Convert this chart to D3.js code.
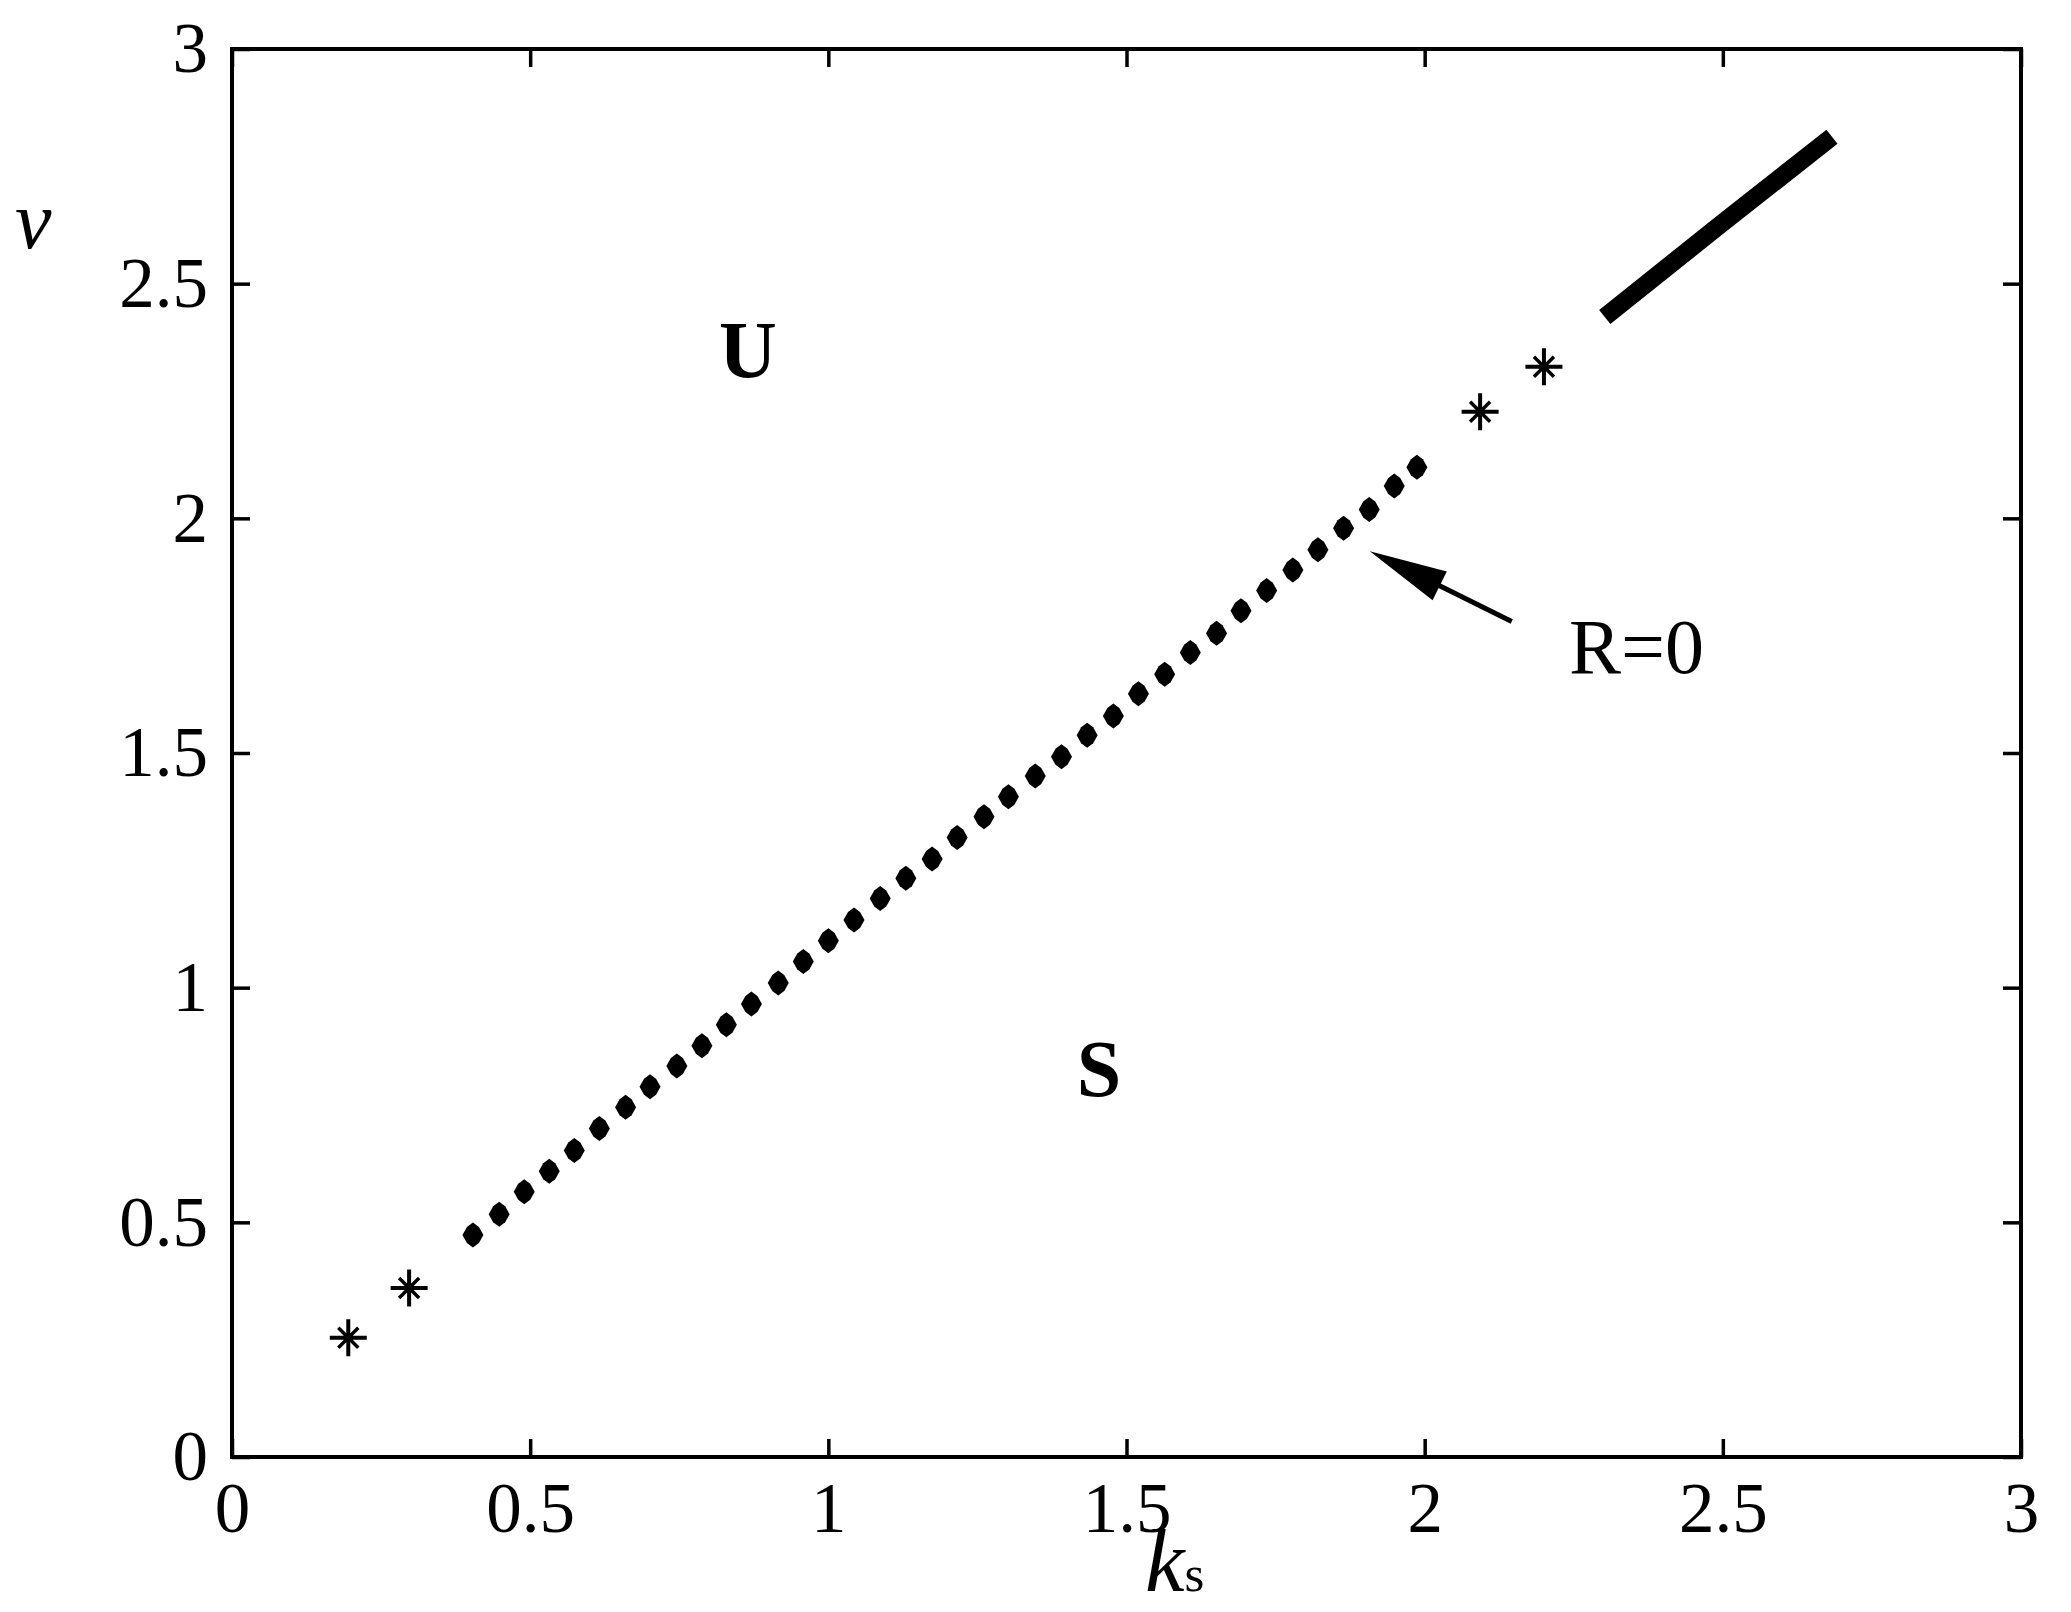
<!DOCTYPE html>
<html>
<head>
<meta charset="utf-8">
<script src="https://cdn.jsdelivr.net/npm/d3@7"></script>
<style>
  html, body { margin: 0; padding: 0; background: #fff; }
  svg { display: block; }
  text { font-family: "Liberation Serif", "Times New Roman", serif; fill: #000; }
</style>
</head>
<body>
<script>
// values (k_s on x, nu on y)
var dot_ks = [0.404, 0.448, 0.490, 0.532, 0.574, 0.616, 0.660, 0.701, 0.746, 0.788,
              0.829, 0.871, 0.916, 0.958, 1.000, 1.043, 1.087, 1.130, 1.174, 1.216,
              1.261, 1.302, 1.347, 1.391, 1.434, 1.478, 1.520, 1.564, 1.607, 1.651,
              1.692, 1.735, 1.779, 1.821, 1.864, 1.907, 1.949, 1.987];
var dot_nu = [0.473, 0.517, 0.565, 0.609, 0.653, 0.700, 0.745, 0.789, 0.833, 0.876,
              0.921, 0.965, 1.010, 1.056, 1.100, 1.144, 1.190, 1.233, 1.274, 1.320,
              1.364, 1.407, 1.451, 1.492, 1.538, 1.579, 1.626, 1.668, 1.714, 1.755,
              1.803, 1.846, 1.890, 1.933, 1.979, 2.019, 2.069, 2.109];
var star_ks = [0.195, 0.297, 2.093, 2.200];
var star_nu = [0.254, 0.360, 2.227, 2.323];
var band_ks = [2.302, 2.495, 2.683];
var band_nu = [2.429, 2.625, 2.813];

var tick_values = [0, 0.5, 1, 1.5, 2, 2.5, 3];
var tick_labels = ['0', '0.5', '1', '1.5', '2', '2.5', '3'];

// region labels and the R=0 note, in data units
var region_labels = ['U', 'S'];
var region_ks = [0.865, 1.454];
var region_nu = [2.301, 0.769];
var note_text = 'R=0';
var note_at = [2.242, 1.671];
var arrow_from = [2.146, 1.780];
var arrow_to = [1.908, 1.930];

var svg_w = 2071, svg_h = 1612;
var margin = {top: 49, right: 50, bottom: 155, left: 232};
var plot_w = svg_w - margin.left - margin.right;
var plot_h = svg_h - margin.top - margin.bottom;

var svg = d3.select('body').append('svg')
  .attr('xmlns', 'http://www.w3.org/2000/svg')
  .attr('width', svg_w)
  .attr('height', svg_h);

var g = svg.append('g').attr('transform', 'translate(' + margin.left + ',' + margin.top + ')');

var x = d3.scaleLinear().domain([0, 3]).range([0, plot_w]);
var y = d3.scaleLinear().domain([0, 3]).range([plot_h, 0]);

function label(d, i) { return tick_labels[i]; }

// axes, ticks point inward on all four sides
var tick_len = 18;
var ax_bottom = g.append('g').attr('transform', 'translate(0,' + plot_h + ')')
  .call(d3.axisBottom(x).tickValues(tick_values).tickFormat(label).tickSizeInner(-tick_len).tickSizeOuter(0).tickPadding(25));
var ax_left = g.append('g')
  .call(d3.axisLeft(y).tickValues(tick_values).tickFormat(label).tickSizeInner(-tick_len).tickSizeOuter(0).tickPadding(24));
var ax_top = g.append('g')
  .call(d3.axisTop(x).tickValues(tick_values).tickFormat('').tickSizeInner(-tick_len).tickSizeOuter(0));
var ax_right = g.append('g').attr('transform', 'translate(' + plot_w + ',0)')
  .call(d3.axisRight(y).tickValues(tick_values).tickFormat('').tickSizeInner(-tick_len).tickSizeOuter(0));

[ax_bottom, ax_left, ax_top, ax_right].forEach(function (a) {
  a.select('.domain').remove();
  a.selectAll('.tick line').attr('stroke', '#000').attr('stroke-width', 3.5);
  a.selectAll('.tick text')
    .style('font-family', '"Liberation Serif", "Times New Roman", serif')
    .style('font-size', '71px')
    .attr('fill', '#000');
});

// frame
g.append('rect')
  .attr('x', 0).attr('y', 0)
  .attr('width', plot_w).attr('height', plot_h)
  .attr('fill', 'none').attr('stroke', '#000').attr('stroke-width', 4);

// thick segment at the top right
var band = d3.range(band_ks.length).map(function (i) { return [band_ks[i], band_nu[i]]; });
g.append('path')
  .datum(band)
  .attr('d', d3.line().x(function (d) { return x(d[0]); }).y(function (d) { return y(d[1]); }))
  .attr('fill', 'none')
  .attr('stroke', '#000')
  .attr('stroke-width', 18)
  .attr('stroke-linecap', 'butt');

// dotted boundary, small diamond blobs
var dots = d3.range(dot_ks.length).map(function (i) { return [dot_ks[i], dot_nu[i]]; });
g.append('g').selectAll('path')
  .data(dots)
  .join('path')
  .attr('transform', function (d) { return 'translate(' + x(d[0]) + ',' + y(d[1]) + ')'; })
  .attr('d', 'M0,-12.5L6,-8L10.5,0L6,8L0,12.5L-6,8L-10.5,0L-6,-8Z')
  .attr('fill', '#000');

// asterisks
var stars = d3.range(star_ks.length).map(function (i) { return [star_ks[i], star_nu[i]]; });
var star = g.append('g').selectAll('g')
  .data(stars)
  .join('g')
  .attr('transform', function (d) { return 'translate(' + x(d[0]) + ',' + y(d[1]) + ')'; });
star.append('path')
  .attr('d', 'M-18.5,0H18.5M0,-18.5V18.5')
  .attr('stroke', '#000').attr('stroke-width', 4).attr('fill', 'none');
star.append('path')
  .attr('d', 'M-10,-10L10,10M-10,10L10,-10')
  .attr('stroke', '#000').attr('stroke-width', 3.5).attr('fill', 'none');
star.append('circle').attr('r', 5).attr('fill', '#000');

// region labels
g.append('g').selectAll('text')
  .data(region_labels)
  .join('text')
  .attr('x', function (d, i) { return x(region_ks[i]); })
  .attr('y', function (d, i) { return y(region_nu[i]); })
  .attr('text-anchor', 'middle')
  .style('font-size', '80px')
  .style('font-weight', 'bold')
  .text(function (d) { return d; });

// R=0 note with arrow
var ax0 = x(arrow_from[0]), ay0 = y(arrow_from[1]);
var ax1 = x(arrow_to[0]), ay1 = y(arrow_to[1]);
var len = Math.sqrt((ax1 - ax0) * (ax1 - ax0) + (ay1 - ay0) * (ay1 - ay0));
var ux = (ax1 - ax0) / len, uy = (ay1 - ay0) / len;
var head_len = 78, head_half = 16;
var bx = ax1 - ux * head_len, by = ay1 - uy * head_len;
g.append('line')
  .attr('x1', ax0).attr('y1', ay0)
  .attr('x2', bx + ux * 4).attr('y2', by + uy * 4)
  .attr('stroke', '#000').attr('stroke-width', 5);
g.append('path')
  .attr('d', 'M' + ax1 + ',' + ay1 +
             'L' + (bx - uy * head_half) + ',' + (by + ux * head_half) +
             'L' + (bx + uy * head_half) + ',' + (by - ux * head_half) + 'Z')
  .attr('fill', '#000');
g.append('text')
  .attr('x', x(note_at[0]))
  .attr('y', y(note_at[1]))
  .style('font-size', '78px')
  .text(note_text);

// axis titles
svg.append('text')
  .attr('x', 15)
  .attr('y', 248)
  .style('font-size', '82px')
  .style('font-style', 'italic')
  .text('\u03bd');

var xt = svg.append('text')
  .attr('x', 1145)
  .attr('y', 1591);
xt.append('tspan').style('font-size', '89px').style('font-style', 'italic').text('k');
xt.append('tspan').style('font-size', '51px').text('s');
</script>
</body>
</html>
